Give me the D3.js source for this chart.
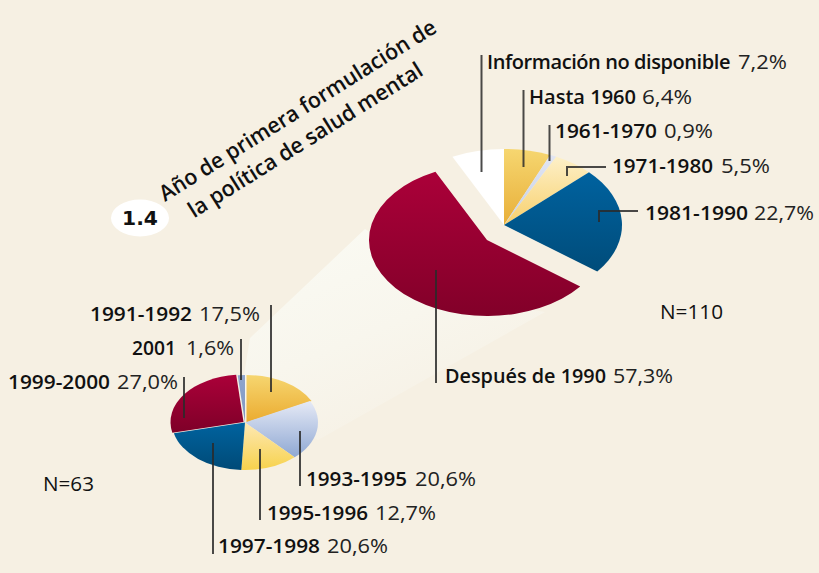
<!DOCTYPE html>
<html><head><meta charset="utf-8">
<script src="https://cdn.jsdelivr.net/npm/d3@7/dist/d3.min.js"></script>
<style>html,body{margin:0;padding:0;background:#f6f0e3}svg{display:block}text{font-family:"Open Sans","Noto Sans",sans-serif;fill:#111}</style>
</head><body><svg id="c" width="819" height="573"></svg>
<script>
const bigCategories = ["Hasta 1960","1961-1970","1971-1980","1981-1990","Después de 1990","Información no disponible"];
const bigValues = [6.4,0.9,5.5,22.7,57.3,7.2];
const bigLabels = ["6,4%","0,9%","5,5%","22,7%","57,3%","7,2%"];
const smallCategories = ["1991-1992","1993-1995","1995-1996","1997-1998","1999-2000","2001"];
const smallValues = [17.5,20.6,12.7,20.6,27.0,1.6];
const smallLabels = ["17,5%","20,6%","12,7%","20,6%","27,0%","1,6%"];
const titleLines = ["Año de primera formulación de","la política de salud mental"];
const chartNumber = "1.4";
const bigN = "N=110", smallN = "N=63";

const bigColors = [["#f6d670","#e8af38"],["#e2e6f3","#c3cee6"],["#fdf0c8","#f8d06c"],["#00629f","#004c7a"],["#ab0039","#820029"],["#ffffff","#ffffff"]];
const smallColors = [["#f6d670","#ebab30"],["#e6eaf6","#8fa8d3"],["#fde8b4","#f7d24c"],["#00639f","#004a77"],["#ab0039","#7e0028"],["#8fa5cd","#7f97c2"]];

const svg = d3.select("#c");
const defs = svg.append("defs");
svg.append("rect").attr("width",819).attr("height",573).attr("fill","#f6f0e3");

const beam = defs.append("linearGradient").attr("id","beam").attr("x1","0").attr("y1","0").attr("x2","0.6").attr("y2","1");
beam.append("stop").attr("offset","0.1").attr("stop-color","#fafaf3");
beam.append("stop").attr("offset","0.55").attr("stop-color","#f8f6ed");
beam.append("stop").attr("offset","1").attr("stop-color","#f6f0e4");
svg.append("path").attr("d",d3.line()([[365,229],[250,338],[240,400],[318,440],[545,312],[480,300]])).attr("fill","url(#beam)");

function gradient(id,c){
  const g=defs.append("linearGradient").attr("id",id).attr("x1",0).attr("y1",0).attr("x2",0).attr("y2",1);
  g.append("stop").attr("offset",0).attr("stop-color",c[0]);
  g.append("stop").attr("offset",1).attr("stop-color",c[1]);
}
function drawPie(values,colors,cx,cy,rx,ry,prefix,offsets){
  const pie=d3.pie().sort(null).value(d=>d)(values);
  const arc=d3.arc().innerRadius(0).outerRadius(rx);
  const root=svg.append("g");
  pie.forEach((d,i)=>{
    gradient(prefix+i,colors[i]);
    const o=offsets[i]||[0,0];
    root.append("path").attr("d",arc(d))
      .attr("transform",`translate(${cx+o[0]},${cy+o[1]}) scale(1,${ry/rx})`)
      .attr("fill",`url(#${prefix}${i})`);
  });
}
drawPie(bigValues,bigColors,504,225,118,76,"b",{4:[-17,15]});
drawPie(smallValues,smallColors,245,422.5,73,47.5,"s",{0:[1.5,0],4:[-1.5,-0.5]});

svg.append("ellipse").attr("cx",140).attr("cy",218).attr("rx",29).attr("ry",18.5).attr("fill","#fff");
svg.append("text").attr("x",140).attr("y",225).attr("text-anchor","middle").attr("font-weight",700).attr("font-size",20.3).style("font-family","'DejaVu Sans'").text(chartNumber);
[[165,202,322],[194,218.5,272]].forEach((p,i)=>{
  svg.append("text").attr("transform",`translate(${p[0]},${p[1]}) rotate(-32)`).attr("font-size",22).attr("font-weight",600)
    .attr("textLength",p[2]).attr("lengthAdjust","spacingAndGlyphs").text(titleLines[i]);
});

const leaders=[
 [[481.5,55],[481.5,172]],[[523.5,90],[523.5,167]],[[549.5,125],[549.5,161]],
 [[606,167],[567,167],[567,176]],[[638,211],[599,211],[599,222]],[[436,270],[436,383]],
 [[271,305],[271,392]],[[241,339],[241,380]],[[184,377],[184,418]],
 [[300,431],[300,486]],[[260,449],[260,520]],[[213,443],[213,554]]];
leaders.forEach(l=>svg.append("path").attr("d",d3.line()(l)).attr("fill","none").attr("stroke","#2a2a2a").attr("stroke-opacity",0.85).attr("stroke-width",2));

function label(name,val,p){
  const [nx,nw,vx,vw,y,spacing]=p;
  const n=svg.append("text").attr("x",nx).attr("y",y).attr("font-size",spacing?20:20.5).attr("font-weight",600).text(name);
  if(spacing) n.style("letter-spacing",spacing+"px");
  else n.attr("textLength",nw).attr("lengthAdjust","spacingAndGlyphs");
  svg.append("text").attr("x",vx).attr("y",y).attr("font-size",20.5).attr("font-weight",400).style("fill","#222")
    .attr("textLength",vw).attr("lengthAdjust","spacingAndGlyphs").text(val);
}
const bigPos=[[529,107,642,50,103.5],[555,102,664,49,138],[612,101,721,49,173],[645,103,754,60,220],[445,161,613,60,383],[487,244,738,49,69,-0.42]];
bigPos.forEach((p,i)=>label(bigCategories[i],bigLabels[i],p));
const smallPos=[[90,102,199,61,321],[306,101,415,61,485.5],[267,101,375,61,519.5],[218,102,327,61,553],[8,102,117,61,389],[132,44,186,48,355]];
smallPos.forEach((p,i)=>label(smallCategories[i],smallLabels[i],p));
svg.append("text").attr("x",660).attr("y",319).attr("font-size",20.5).attr("textLength",63).attr("lengthAdjust","spacingAndGlyphs").text(bigN);
svg.append("text").attr("x",43).attr("y",491).attr("font-size",20.5).attr("textLength",51).attr("lengthAdjust","spacingAndGlyphs").text(smallN);
</script></body></html>
